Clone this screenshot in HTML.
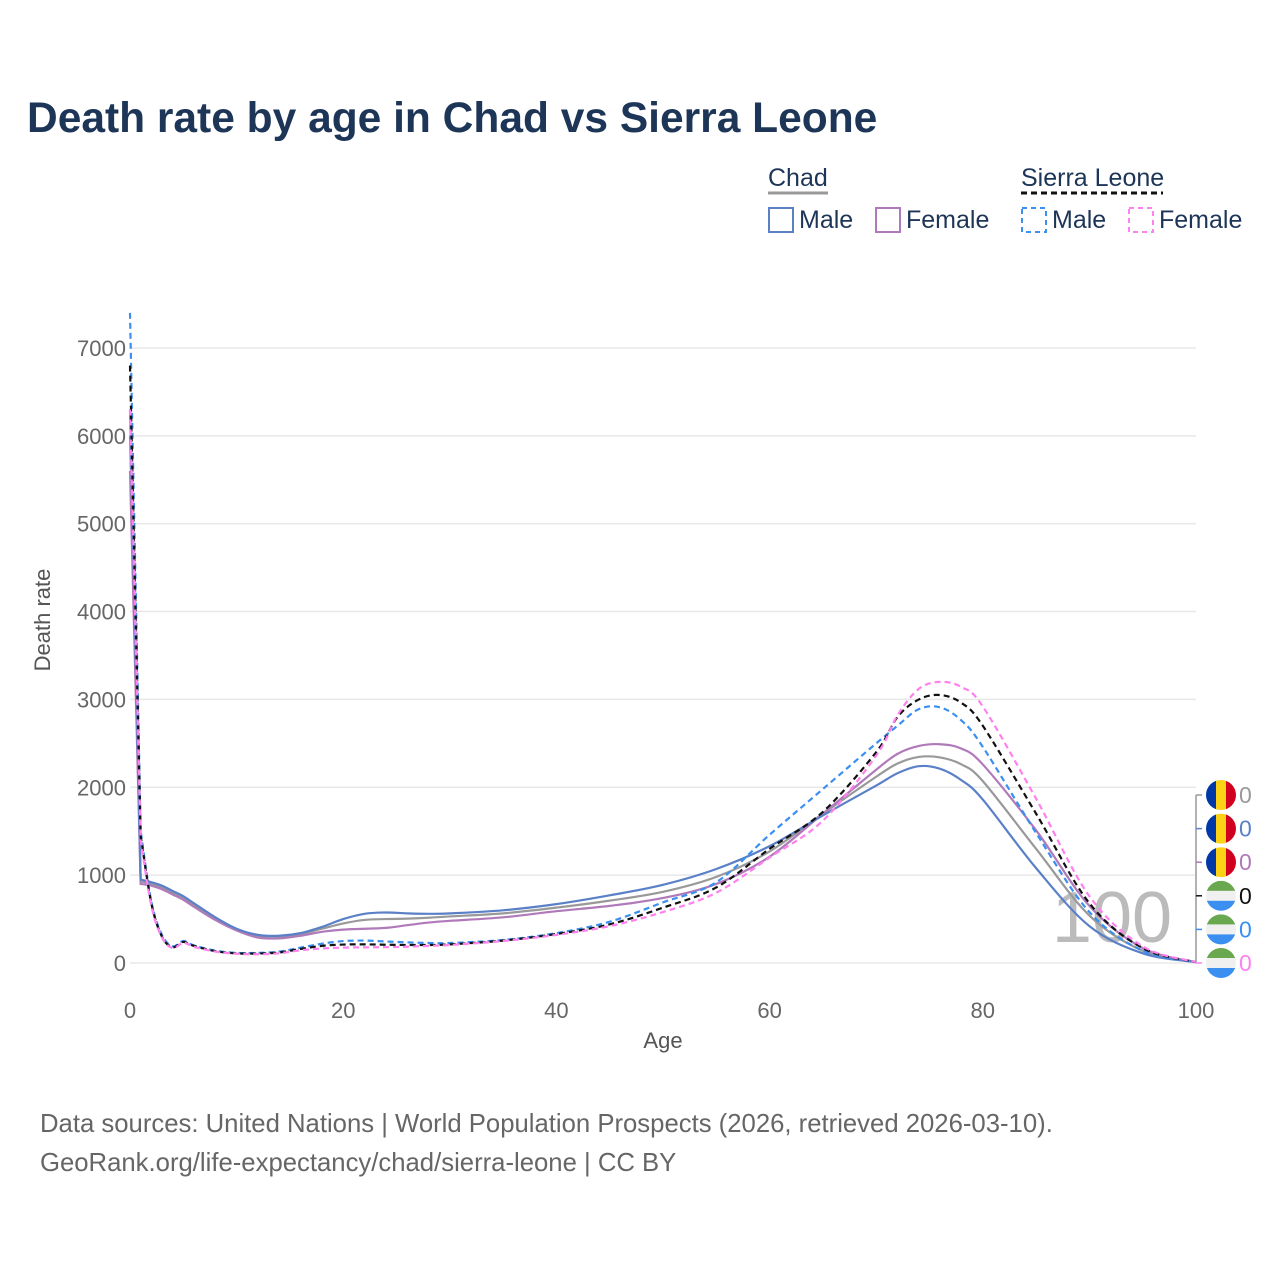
<!DOCTYPE html>
<html><head><meta charset="utf-8"><style>
body{margin:0;background:#fff;font-family:"Liberation Sans",sans-serif}
svg text{font-family:"Liberation Sans",sans-serif}
</style></head><body>
<svg width="1280" height="1280" viewBox="0 0 1280 1280">
<text x="27" y="132" font-size="42.5" font-weight="bold" fill="#1d3557">Death rate by age in Chad vs Sierra Leone</text>
<g font-size="25" fill="#1d3557">
<text x="768" y="186">Chad</text>
<line x1="768" y1="193" x2="828" y2="193" stroke="#999" stroke-width="3"/>
<text x="1021" y="186">Sierra Leone</text>
<line x1="1021" y1="193" x2="1163" y2="193" stroke="#111" stroke-width="3" stroke-dasharray="6,4"/>
<g><rect x="769" y="208" width="24" height="24" fill="none" stroke="#5a80c8" stroke-width="2"/><text x="799" y="228">Male</text></g>
<g><rect x="876" y="208" width="24" height="24" fill="none" stroke="#b07aba" stroke-width="2"/><text x="906" y="228">Female</text></g>
<g><rect x="1022" y="208" width="24" height="24" fill="none" stroke="#3b8ff0" stroke-width="2" stroke-dasharray="5,4"/><text x="1052" y="228">Male</text></g>
<g><rect x="1129" y="208" width="24" height="24" fill="none" stroke="#ff80ee" stroke-width="2" stroke-dasharray="5,4"/><text x="1159" y="228">Female</text></g>
</g>
<g id="grid"></g><g id="axes"></g>
<text x="50" y="620" font-size="22" fill="#555" text-anchor="middle" transform="rotate(-90 50 620)">Death rate</text>
<text x="663" y="1048" font-size="22" fill="#555" text-anchor="middle">Age</text>
<text x="1112" y="942" font-size="72" fill="#bbb" text-anchor="middle">100</text>
<g id="series"></g>
<g id="endlabels"></g>
<text x="40" y="1132" font-size="25.7" fill="#666">Data sources: United Nations | World Population Prospects (2026, retrieved 2026-03-10).</text>
<text x="40" y="1171" font-size="25.7" fill="#666">GeoRank.org/life-expectancy/chad/sierra-leone | CC BY</text>
</svg>
<script>
const ages=[0,1,2,3,4,5,6,8,10,12,14,16,18,20,22,24,26,28,30,35,40,45,50,55,60,65,70,72,74,76,78,80,85,90,95,100];
const chadMale=[6300,950,920,880,820,760,680,520,390,320,310,340,410,500,560,575,565,560,565,600,670,770,890,1070,1330,1680,2020,2160,2240,2210,2080,1860,1080,420,110,10];
const chadBoth=[6000,930,900,860,800,740,660,500,380,300,295,330,390,450,490,500,505,515,530,565,630,710,810,980,1270,1700,2120,2270,2345,2340,2260,2070,1300,540,140,10];
const chadFemale=[5600,900,880,840,780,720,640,490,370,290,280,310,355,380,390,400,430,460,480,520,590,650,740,900,1210,1700,2200,2380,2470,2490,2440,2260,1510,650,170,10];
const slMale=[7400,1500,700,320,190,250,200,140,115,115,130,175,220,250,255,245,235,228,228,262,340,470,690,920,1460,1980,2500,2700,2890,2910,2760,2460,1480,580,140,10];
const slBoth=[6800,1450,680,300,180,240,195,135,110,108,120,160,195,210,212,208,205,205,212,255,330,440,630,860,1300,1720,2400,2800,3000,3050,2960,2700,1700,680,170,10];
const slFemale=[6300,1400,650,290,170,230,185,130,105,100,110,145,165,175,178,180,185,195,205,250,320,420,580,800,1200,1620,2360,2820,3120,3200,3140,2920,1870,760,190,10];
const yTicks=[0,1000,2000,3000,4000,5000,6000,7000];
const xTicks=[0,20,40,60,80,100];
const X=a=>130+a*10.66, Y=v=>963-v*0.08786;
const NS='http://www.w3.org/2000/svg';
function mk(t,at,p){const e=document.createElementNS(NS,t);for(const k in at)e.setAttribute(k,at[k]);p.appendChild(e);return e;}
const grid=document.getElementById('grid'),axes=document.getElementById('axes');
yTicks.forEach(v=>{
 const l=mk('line',{x1:130,x2:1196,y1:Y(v),y2:Y(v),stroke:'#e8e8e8','stroke-width':1.5},grid);
 
 
 const t=mk('text',{x:126,y:Y(v)+8,'font-size':22,fill:'#666','text-anchor':'end'},axes);t.textContent=v;
 
 
});
xTicks.forEach(v=>{
 const t=mk('text',{x:X(v),y:1018,'font-size':22,fill:'#666','text-anchor':'middle'},axes);t.textContent=v;
 
 
});
function path(vals){
 const p=ages.map((a,i)=>[X(a),Y(vals[i])]);let d='M'+p[0][0]+','+p[0][1]+' L'+p[1][0]+','+p[1][1];
 for(let i=1;i<p.length-1;i++){const p0=i===1?p[1]:p[i-1],p1=p[i],p2=p[i+1],p3=p[i+2]||p2;
  d+=` C${p1[0]+(p2[0]-p0[0])/6},${p1[1]+(p2[1]-p0[1])/6} ${p2[0]-(p3[0]-p1[0])/6},${p2[1]-(p3[1]-p1[1])/6} ${p2[0]},${p2[1]}`;}
 return d;}
const series=[[chadBoth,'#999',null,'chad-both'],[chadFemale,'#b07aba',null,'chad-female'],[chadMale,'#5a80c8',null,'chad-male'],
[slMale,'#3b8ff0','6,4','sl-male'],[slBoth,'#111','6,4','sl-both'],[slFemale,'#ff80ee','6,4','sl-female']];
const sg=document.getElementById('series');
series.forEach(s=>{const at={d:path(s[0]),fill:'none',stroke:s[1],'stroke-width':2.2};if(s[2])at['stroke-dasharray']=s[2];
 const e=mk('path',at,sg);
 
 });
const el=document.getElementById('endlabels');
mk('line',{x1:1196,x2:1196,y1:795,y2:963,stroke:'#999','stroke-width':1.5},el);
const lab=[['#999','td'],['#5a80c8','td'],['#b07aba','td'],['#111','sl'],['#3b8ff0','sl'],['#ff80ee','sl']];
lab.forEach((l,i)=>{const y=795+i*33.6;
 mk('line',{x1:1196,x2:1202,y1:y,y2:y,stroke:l[0],'stroke-width':1.5},el);
 const g=mk('g',{},el);
 
 
 const cx=1221,r=15;
 const cp='c'+i;mk('clipPath',{id:cp},g).appendChild(document.createElementNS(NS,'circle')).setAttribute('r',r);
 g.lastChild.firstChild.setAttribute('cx',cx);g.lastChild.firstChild.setAttribute('cy',y);
 const f=mk('g',{'clip-path':`url(#${cp})`},g);
 if(l[1]==='td'){[['#0038a8',0],['#fcd116',1],['#d2001f',2]].forEach(c=>mk('rect',{x:cx-r+c[1]*10,y:y-r,width:10.5,height:30,fill:c[0]},f));}
 else{[['#6aa84f',0],['#f0f0f0',1],['#3b8ff0',2]].forEach(c=>mk('rect',{x:cx-r,y:y-r+c[1]*10,width:30,height:10.5,fill:c[0]},f));}
 const t=mk('text',{x:1239,y:y+8,'font-size':23,fill:l[0]},el);t.textContent='0';
 
 
});
</script>
</body></html>
